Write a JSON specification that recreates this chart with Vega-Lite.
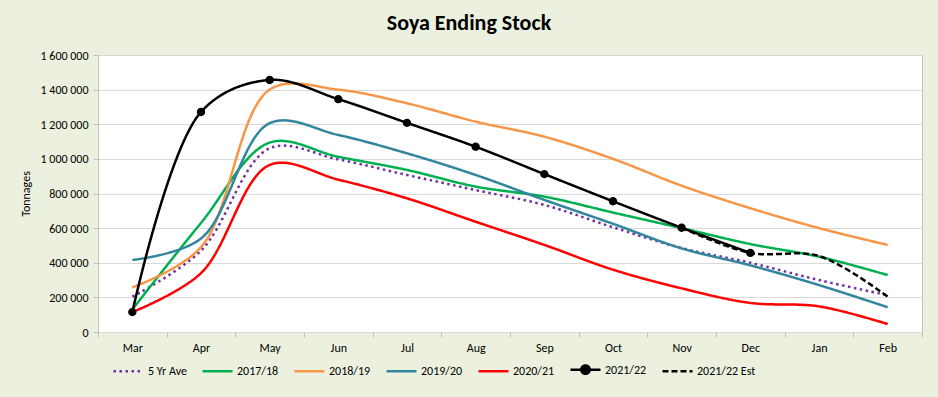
{
  "$schema": "https://vega.github.io/schema/vega-lite/v6.json",
  "width": 824,
  "height": 277,
  "autosize": {"type": "none"},
  "padding": {"left": 98, "top": 55, "right": 16, "bottom": 65},
  "background": "#EBF1DE",
  "title": {"text": "Soya Ending Stock", "fontSize": 22, "fontWeight": "bold", "color": "#000000", "font": "Carlito, Lato, sans-serif", "dx": -41, "offset": 14},
  "config": {
    "locale": {"number": {"decimal": ".", "thousands": " ", "grouping": [3], "currency": ["", ""]}},
    "view": {"stroke": "#BFBFBF", "strokeWidth": 1, "fill": "#FFFFFF"},
    "font": "Carlito, Lato, sans-serif",
    "legend": {"symbolSize": 900, "symbolStrokeWidth": 2.5, "labelFontSize": 12, "labelColor": "#000000", "columnPadding": 10, "labelOffset": 3}
  },
  "data": {"values": [
    {"month": "Mar", "series": "5 Yr Ave", "value": 204000},
    {"month": "Apr", "series": "5 Yr Ave", "value": 470000},
    {"month": "May", "series": "5 Yr Ave", "value": 1061000},
    {"month": "Jun", "series": "5 Yr Ave", "value": 997000},
    {"month": "Jul", "series": "5 Yr Ave", "value": 907000},
    {"month": "Aug", "series": "5 Yr Ave", "value": 820000},
    {"month": "Sep", "series": "5 Yr Ave", "value": 734000},
    {"month": "Oct", "series": "5 Yr Ave", "value": 605000},
    {"month": "Nov", "series": "5 Yr Ave", "value": 485000},
    {"month": "Dec", "series": "5 Yr Ave", "value": 400000},
    {"month": "Jan", "series": "5 Yr Ave", "value": 300000},
    {"month": "Feb", "series": "5 Yr Ave", "value": 213000},
    {"month": "Mar", "series": "2017/18", "value": 130000},
    {"month": "Apr", "series": "2017/18", "value": 630000},
    {"month": "May", "series": "2017/18", "value": 1094000},
    {"month": "Jun", "series": "2017/18", "value": 1012000},
    {"month": "Jul", "series": "2017/18", "value": 936000},
    {"month": "Aug", "series": "2017/18", "value": 840000},
    {"month": "Sep", "series": "2017/18", "value": 782000},
    {"month": "Oct", "series": "2017/18", "value": 690000},
    {"month": "Nov", "series": "2017/18", "value": 600000},
    {"month": "Dec", "series": "2017/18", "value": 508000},
    {"month": "Jan", "series": "2017/18", "value": 435000},
    {"month": "Feb", "series": "2017/18", "value": 329000},
    {"month": "Mar", "series": "2018/19", "value": 258000},
    {"month": "Apr", "series": "2018/19", "value": 490000},
    {"month": "May", "series": "2018/19", "value": 1400000},
    {"month": "Jun", "series": "2018/19", "value": 1400000},
    {"month": "Jul", "series": "2018/19", "value": 1321000},
    {"month": "Aug", "series": "2018/19", "value": 1215000},
    {"month": "Sep", "series": "2018/19", "value": 1128000},
    {"month": "Oct", "series": "2018/19", "value": 1000000},
    {"month": "Nov", "series": "2018/19", "value": 845000},
    {"month": "Dec", "series": "2018/19", "value": 715000},
    {"month": "Jan", "series": "2018/19", "value": 600000},
    {"month": "Feb", "series": "2018/19", "value": 503000},
    {"month": "Mar", "series": "2019/20", "value": 416000},
    {"month": "Apr", "series": "2019/20", "value": 540000},
    {"month": "May", "series": "2019/20", "value": 1206000},
    {"month": "Jun", "series": "2019/20", "value": 1138000},
    {"month": "Jul", "series": "2019/20", "value": 1032000},
    {"month": "Aug", "series": "2019/20", "value": 907000},
    {"month": "Sep", "series": "2019/20", "value": 763000},
    {"month": "Oct", "series": "2019/20", "value": 625000},
    {"month": "Nov", "series": "2019/20", "value": 483000},
    {"month": "Dec", "series": "2019/20", "value": 385000},
    {"month": "Jan", "series": "2019/20", "value": 271000},
    {"month": "Feb", "series": "2019/20", "value": 143000},
    {"month": "Mar", "series": "2020/21", "value": 115000},
    {"month": "Apr", "series": "2020/21", "value": 340000},
    {"month": "May", "series": "2020/21", "value": 965000},
    {"month": "Jun", "series": "2020/21", "value": 880000},
    {"month": "Jul", "series": "2020/21", "value": 772000},
    {"month": "Aug", "series": "2020/21", "value": 637000},
    {"month": "Sep", "series": "2020/21", "value": 503000},
    {"month": "Oct", "series": "2020/21", "value": 360000},
    {"month": "Nov", "series": "2020/21", "value": 252000},
    {"month": "Dec", "series": "2020/21", "value": 168000},
    {"month": "Jan", "series": "2020/21", "value": 148000},
    {"month": "Feb", "series": "2020/21", "value": 46000},
    {"month": "Mar", "series": "2021/22", "value": 115000},
    {"month": "Apr", "series": "2021/22", "value": 1271000},
    {"month": "May", "series": "2021/22", "value": 1456000},
    {"month": "Jun", "series": "2021/22", "value": 1345000},
    {"month": "Jul", "series": "2021/22", "value": 1208000},
    {"month": "Aug", "series": "2021/22", "value": 1070000},
    {"month": "Sep", "series": "2021/22", "value": 912000},
    {"month": "Oct", "series": "2021/22", "value": 755000},
    {"month": "Nov", "series": "2021/22", "value": 602000},
    {"month": "Dec", "series": "2021/22", "value": 457000},
    {"month": "Nov", "series": "2021/22 Est", "value": 602000},
    {"month": "Dec", "series": "2021/22 Est", "value": 457000},
    {"month": "Jan", "series": "2021/22 Est", "value": 439000},
    {"month": "Feb", "series": "2021/22 Est", "value": 204000}
  ]},
  "encoding": {
    "x": {
      "field": "month", "type": "ordinal",
      "sort": ["Mar", "Apr", "May", "Jun", "Jul", "Aug", "Sep", "Oct", "Nov", "Dec", "Jan", "Feb"],
      "scale": {"type": "band", "paddingInner": 0, "paddingOuter": 0},
      "axis": {"title": null, "labelAngle": 0, "tickBand": "extent", "tickSize": 5, "tickColor": "#BFBFBF", "domain": false, "labelPadding": 5, "labelFontSize": 12, "labelColor": "#000000", "grid": false}
    },
    "y": {
      "field": "value", "type": "quantitative",
      "scale": {"domain": [0, 1600000], "nice": false},
      "axis": {"title": "Tonnages", "titleFontSize": 12, "titleFontWeight": "normal", "titleColor": "#000000", "titlePadding": 8, "format": ",.0f", "values": [0, 200000, 400000, 600000, 800000, 1000000, 1200000, 1400000, 1600000], "tickSize": 5, "tickColor": "#BFBFBF", "domain": false, "labelPadding": 5, "labelFontSize": 12, "labelColor": "#000000", "gridColor": "#D9D9D9", "gridWidth": 1}
    },
    "color": {
      "field": "series", "type": "nominal",
      "scale": {"domain": ["5 Yr Ave", "2017/18", "2018/19", "2019/20", "2020/21", "2021/22", "2021/22 Est"], "range": ["#7030A0", "#00B050", "#F79646", "#31859C", "#FF0000", "#000000", "#000000"]},
      "legend": {"title": null, "orient": "none", "direction": "horizontal", "legendX": 14, "legendY": 298}
    }
  },
  "layer": [
    {
      "mark": {"type": "line", "interpolate": "catmull-rom", "strokeWidth": 2.5},
      "encoding": {
        "strokeDash": {
          "field": "series", "type": "nominal",
          "scale": {"domain": ["5 Yr Ave", "2017/18", "2018/19", "2019/20", "2020/21", "2021/22", "2021/22 Est"], "range": [[2.5, 3.5], [1, 0], [1, 0], [1, 0], [1, 0], [1, 0], [6, 3]]},
          "legend": {"title": null, "orient": "none", "direction": "horizontal", "legendX": 14, "legendY": 298}
        }
      }
    },
    {
      "transform": [{"filter": "datum.series === '2021/22'"}],
      "mark": {"type": "point", "filled": true, "size": 900, "opacity": 1},
      "encoding": {
        "shape": {
          "field": "series", "type": "nominal",
          "scale": {"domain": ["5 Yr Ave", "2017/18", "2018/19", "2019/20", "2020/21", "2021/22", "2021/22 Est"], "range": ["stroke", "stroke", "stroke", "stroke", "stroke", "M-1,0L1,0M-0.28,0A0.28,0.28,0,1,0,0.28,0A0.28,0.28,0,1,0,-0.28,0Z", "stroke"]},
          "legend": {"title": null, "orient": "none", "direction": "horizontal", "legendX": 14, "legendY": 298}
        }
      }
    }
  ]
}
